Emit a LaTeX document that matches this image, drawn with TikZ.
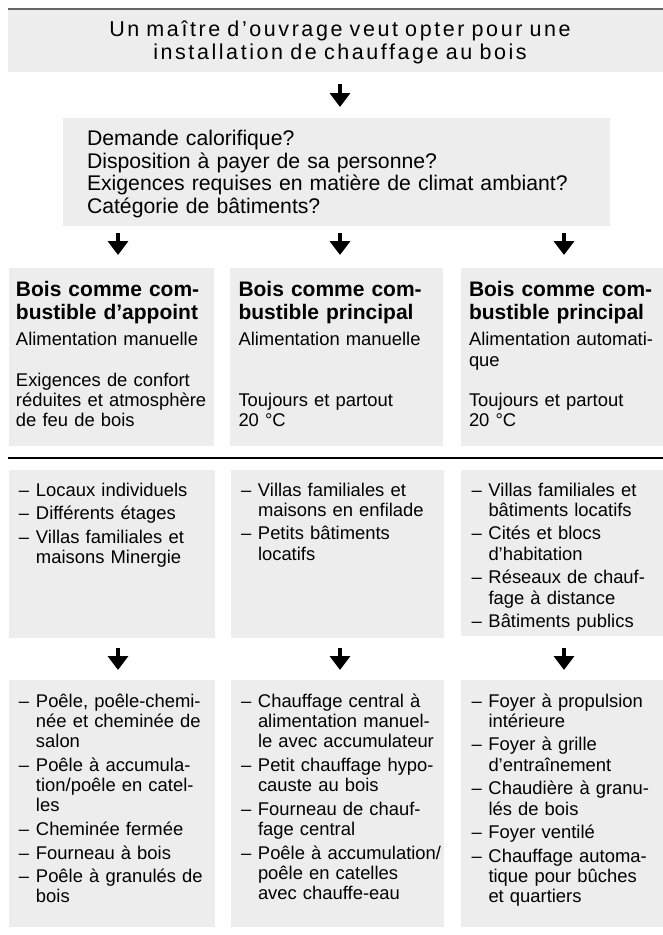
\documentclass[tikz,border=0pt]{standalone}
\usepackage{fontspec}
\setmainfont{Liberation Sans}
\newfontfamily\topfont[LetterSpace=12]{Liberation Sans}
\usetikzlibrary{arrows.meta}
\definecolor{boxgrey}{HTML}{EDEDED}
\definecolor{rulegrey}{HTML}{666666}
\newcommand\itm[1]{\noindent\hangindent=17pt\hangafter=1\makebox[17pt][l]{–}#1\par}
\newcommand\bodyfont{\fontsize{18.4}{20.3}\selectfont}
\tikzset{
  box/.style={fill=boxgrey, draw=none, inner sep=0pt, outer sep=0pt, anchor=north west},
  txt/.style={inner sep=0pt, outer sep=0pt, anchor=base west, align=left, text width=#1},
  txt/.default=215pt,
  body/.style={txt, font=\bodyfont},
  title/.style={txt, font=\bfseries\fontsize{21}{23.5}\selectfont},
  listtxt/.style={txt, font=\bodyfont\setlength\parskip{3.3pt}},
  arr/.style={line width=4.5pt, -{Triangle[width=20pt,length=14pt]}},
}
\begin{document}
\begin{tikzpicture}[x=1pt,y=-1pt]
\useasboundingbox (0,0) rectangle (663,935);
\coordinate (c1) at (340,0);
\coordinate (c2) at (118,0);
\coordinate (c3) at (564,0);

% top box
\node[box, minimum width=655pt, minimum height=63pt] (top) at (8,9.2) {};
\draw[rulegrey, line width=2pt] (top.north west) -- (top.north east);
\node[inner sep=0pt, anchor=base, align=center, text width=620pt,
      font=\topfont\fontsize{21.5}{23}\selectfont] (toptxt) at (340,36.7)
  {Un maître d’ouvrage veut opter pour une\\installation de chauffage au bois};

% questions box
\node[box, minimum width=547pt, minimum height=108pt] (q) at (63,118) {};
\node[txt=520pt, font=\fontsize{21.2}{22.5}\selectfont] (qtxt) at (87,145.7)
  {Demande calorifique?\\Disposition à payer de sa personne?\\Exigences requises en matière de climat ambiant?\\Catégorie de bâtiments?};

% row 3 boxes
\node[box, minimum width=205.5pt, minimum height=178pt] (ra) at (8.5,268) {};
\node[box, minimum width=213pt, minimum height=178pt] (rb) at (230,268) {};
\node[box, minimum width=202pt, minimum height=178pt] (rc) at (461,268) {};

\node[title] (ta) at (16,296) {Bois comme com-\\bustible d’appoint};
\node[title] (tb) at (238.5,296) {Bois comme com-\\bustible principal};
\node[title] (tc) at (469,296) {Bois comme com-\\bustible principal};

\node[body] (ba) at (16,345.7) {Alimentation manuelle\\[20.3pt]Exigences de confort\\réduites et atmosphère\\de feu de bois};
\node[body] (bb) at (238.5,345.7) {Alimentation manuelle\\[40.6pt]Toujours et partout\\20 °C};
\node[body] (bc) at (469,345.7) {Alimentation automati-\\que\\[20.3pt]Toujours et partout\\20 °C};

% separator
\coordinate (sl) at (8,458);
\coordinate (sr) at (663,458);
\draw[line width=1.5pt] (sl) -- (sr);

% row 4 boxes
\node[box, minimum width=206pt, minimum height=168pt] (ua) at (9,470) {};
\node[box, minimum width=213pt, minimum height=168pt] (ub) at (231,470) {};
\node[box, minimum width=202pt, minimum height=166pt] (uc) at (461,470) {};

\node[listtxt] (la) at (19,496)
  {\itm{Locaux individuels}\itm{Différents étages}\itm{Villas familiales et\newline maisons Minergie}};
\node[listtxt] (lb) at (241,496)
  {\itm{Villas familiales et\newline maisons en enfilade}\itm{Petits bâtiments\newline locatifs}};
\node[listtxt] (lc) at (471.5,496)
  {\itm{Villas familiales et\newline bâtiments locatifs}\itm{Cités et blocs\newline d’habitation}\itm{Réseaux de chauf-\newline fage à distance}\itm{Bâtiments publics}};

% row 5 boxes
\node[box, minimum width=206pt, minimum height=247pt] (va) at (9,680) {};
\node[box, minimum width=213pt, minimum height=247pt] (vb) at (231,680) {};
\node[box, minimum width=202pt, minimum height=247pt] (vc) at (461,680) {};

\node[listtxt] (ma) at (19,707)
  {\itm{Poêle, poêle-chemi-\newline née et cheminée de\newline salon}\itm{Poêle à accumula-\newline tion/poêle en catel-\newline les}\itm{Cheminée fermée}\itm{Fourneau à bois}\itm{Poêle à granulés de\newline bois}};
\node[listtxt] (mb) at (241,707)
  {\itm{Chauffage central à\newline alimentation manuel-\newline le avec accumulateur}\itm{Petit chauffage hypo-\newline causte au bois}\itm{Fourneau de chauf-\newline fage central}\itm{Poêle à accumulation/\newline poêle en catelles\newline avec chauffe-eau}};
\node[listtxt] (mc) at (471.5,707)
  {\itm{Foyer à propulsion\newline intérieure}\itm{Foyer à grille\newline d’entraînement}\itm{Chaudière à granu-\newline lés de bois}\itm{Foyer ventilé}\itm{Chauffage automa-\newline tique pour bûches\newline et quartiers}};

% arrows
\draw[arr, shorten <=12pt, shorten >=11pt] (top.south -| c1) -- (q.north -| c1);
\draw[arr, shorten <=7pt, shorten >=13pt] (q.south -| c2) -- (ra.north -| c2);
\draw[arr, shorten <=7pt, shorten >=13pt] (q.south -| c1) -- (rb.north -| c1);
\draw[arr, shorten <=7pt, shorten >=13pt] (q.south -| c3) -- (rc.north -| c3);
\draw[arr, shorten <=10pt, shorten >=10pt] (ua.south -| c2) -- (va.north -| c2);
\draw[arr, shorten <=10pt, shorten >=10pt] (ub.south -| c1) -- (vb.north -| c1);
\draw[arr, shorten <=10pt, shorten >=10pt] (ub.south -| c3) -- (vc.north -| c3);
\end{tikzpicture}
\end{document}
